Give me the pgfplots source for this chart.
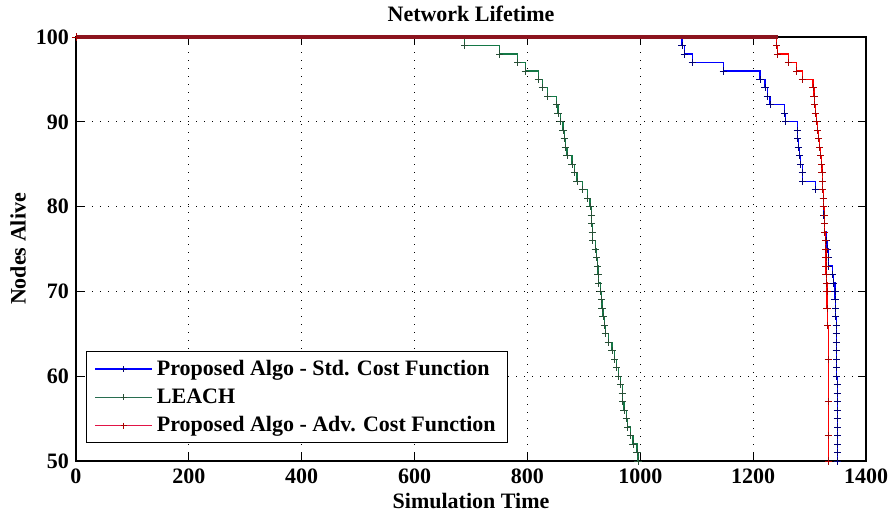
\documentclass[border=0pt]{standalone}
\usepackage{fontspec}
\setmainfont{Liberation Serif}
\usepackage{pgfplots}
\pgfplotsset{compat=1.18}
\usetikzlibrary{calc}
\definecolor{cblue}{RGB}{0,0,255}
\definecolor{cbluem}{RGB}{0,0,120}
\definecolor{cgreen}{RGB}{20,120,70}
\definecolor{cgreenm}{RGB}{40,80,55}
\definecolor{cred}{RGB}{255,0,0}
\definecolor{credm}{RGB}{170,0,0}
\definecolor{cband}{RGB}{140,20,30}
\definecolor{clegg}{RGB}{40,110,80}
\definecolor{clegr}{RGB}{225,20,70}
\begin{document}
\begin{tikzpicture}
\begin{axis}[
  name=ax,
  at={(0,0)}, anchor=south west,
  scale only axis,
  width=395pt, height=212pt,
  xmin=0, xmax=1400, ymin=50, ymax=100,
  xtick={0,200,...,1400}, ytick={50,60,...,100},
  tick align=inside, major tick length=4pt,
  tick style={black, line width=0.5pt},
  axis line style={line width=0.6pt},
  grid=major,
  major grid style={black, line width=0.6pt, dash pattern=on 0.6pt off 3.4pt},
  clip=false,
  /pgf/number format/assume math mode=true,
  /pgf/number format/set thousands separator={},
  tick label style={font=\bfseries\fontsize{11}{13}\selectfont},
  xticklabel style={yshift=-0.5pt},
  title={Network Lifetime},
  title style={font=\bfseries\fontsize{11}{13}\selectfont, at={(axis description cs:0.5,1.027)}, anchor=center},
  xlabel={Simulation Time},
  xlabel style={font=\bfseries\fontsize{11}{13}\selectfont, at={(axis description cs:0.5,-0.094)}, anchor=center},
  ylabel={Nodes Alive},
  ylabel style={font=\bfseries\fontsize{11}{13}\selectfont, at={(axis description cs:-0.0734,0.5)}, anchor=center},
  legend style={at={(axis description cs:0.0127,0.042)}, anchor=south west,
    font=\bfseries\fontsize{11}{13}\selectfont,
    inner xsep=4pt, inner ysep=2pt, row sep=1.2pt, cells={anchor=west}},
]
\addplot[forget plot, const plot, cblue, line width=0.6pt, mark=+, mark size=1.8pt, mark options={solid, cbluem, line width=0.4pt}] coordinates {
(0,100)(1074,99)(1078,98)(1092,97)(1147,96)(1212,95)(1221,94)(1225,93)(1230,92)(1256,91)(1257,90)(1278,89)(1279,88)(1280,87)(1282,86)(1284,85)(1287,84)(1288,83)(1310,82)(1324,81)(1324,80)(1325,79)(1326,78)(1327,77)(1329,76)(1331,75)(1333,74)(1333,73)(1340,72)(1343,71)(1345,70)(1345,69)(1346,68)(1346,67)(1347,66)(1347,65)(1347,64)(1347,63)(1348,62)(1348,61)(1348,60)(1349,59)(1349,58)(1349,57)(1349,56)(1349,55)(1350,54)(1350,53)(1350,52)(1350,51)(1350,50)
};
\addplot[forget plot, const plot, cgreen, line width=0.6pt, mark=+, mark size=1.8pt, mark options={solid, cgreenm, line width=0.4pt}] coordinates {
(0,100)(689,99)(751,98)(783,97)(796,96)(819,95)(826,94)(836,93)(852,92)(854,91)(858,90)(863,89)(865,88)(867,87)(870,86)(879,85)(884,84)(888,83)(897,82)(907,81)(911,80)(913,79)(914,78)(915,77)(916,76)(920,75)(923,74)(924,73)(925,72)(926,71)(929,70)(931,69)(932,68)(934,67)(936,66)(938,65)(943,64)(950,63)(955,62)(958,61)(962,60)(965,59)(968,58)(969,57)(971,56)(975,55)(978,54)(982,53)(987,52)(994,51)(996,50)
};
\addplot[forget plot, const plot, cred, line width=0.6pt, mark=+, mark size=1.8pt, mark options={solid, credm, line width=0.4pt}] coordinates {
(0,100)(1242,99)(1243,98)(1262,97)(1277,96)(1287,95)(1306,94)(1308,93)(1309,92)(1310,91)(1312,90)(1314,89)(1316,88)(1318,87)(1320,86)(1321,85)(1322,84)(1323,83)(1323,82)(1324,81)(1324,80)(1326,79)(1327,78)(1327,77)(1328,76)(1328,75)(1329,74)(1329,73)(1329,72)(1330,71)(1331,70)(1331,68)(1332,66)(1333,62)(1333,57)(1333,53)(1334,50)
};
\addplot[forget plot, cband, line width=2pt] coordinates {(0,100)(1244,100)};
\addlegendimage{legend image code/.code={%
  \draw[draw=cblue, line width=0.8pt] (0cm,0cm) -- (1cm,0cm);
  \begin{scope}[shift={(0.5cm,0cm)}, draw=cbluem, line width=0.4pt]\pgfsetplotmarksize{1.5pt}\pgfuseplotmark{+}\end{scope}}}
\addlegendimage{legend image code/.code={%
  \draw[draw=clegg, line width=0.8pt] (0cm,0cm) -- (1cm,0cm);
  \begin{scope}[shift={(0.5cm,0cm)}, draw=cgreenm, line width=0.4pt]\pgfsetplotmarksize{1.5pt}\pgfuseplotmark{+}\end{scope}}}
\addlegendimage{legend image code/.code={%
  \draw[draw=clegr, line width=0.8pt] (0cm,0cm) -- (1cm,0cm);
  \begin{scope}[shift={(0.5cm,0cm)}, draw=credm, line width=0.4pt]\pgfsetplotmarksize{1.5pt}\pgfuseplotmark{+}\end{scope}}}
\legend{Proposed Algo - Std. Cost Function, LEACH, Proposed Algo - Adv. Cost Function}
\end{axis}
\pgfresetboundingbox
\path[use as bounding box] ($(ax.south west)+(-38pt,-26.5pt)$) rectangle ($(ax.north east)+(11.5pt,18.5pt)$);
\end{tikzpicture}
\end{document}
